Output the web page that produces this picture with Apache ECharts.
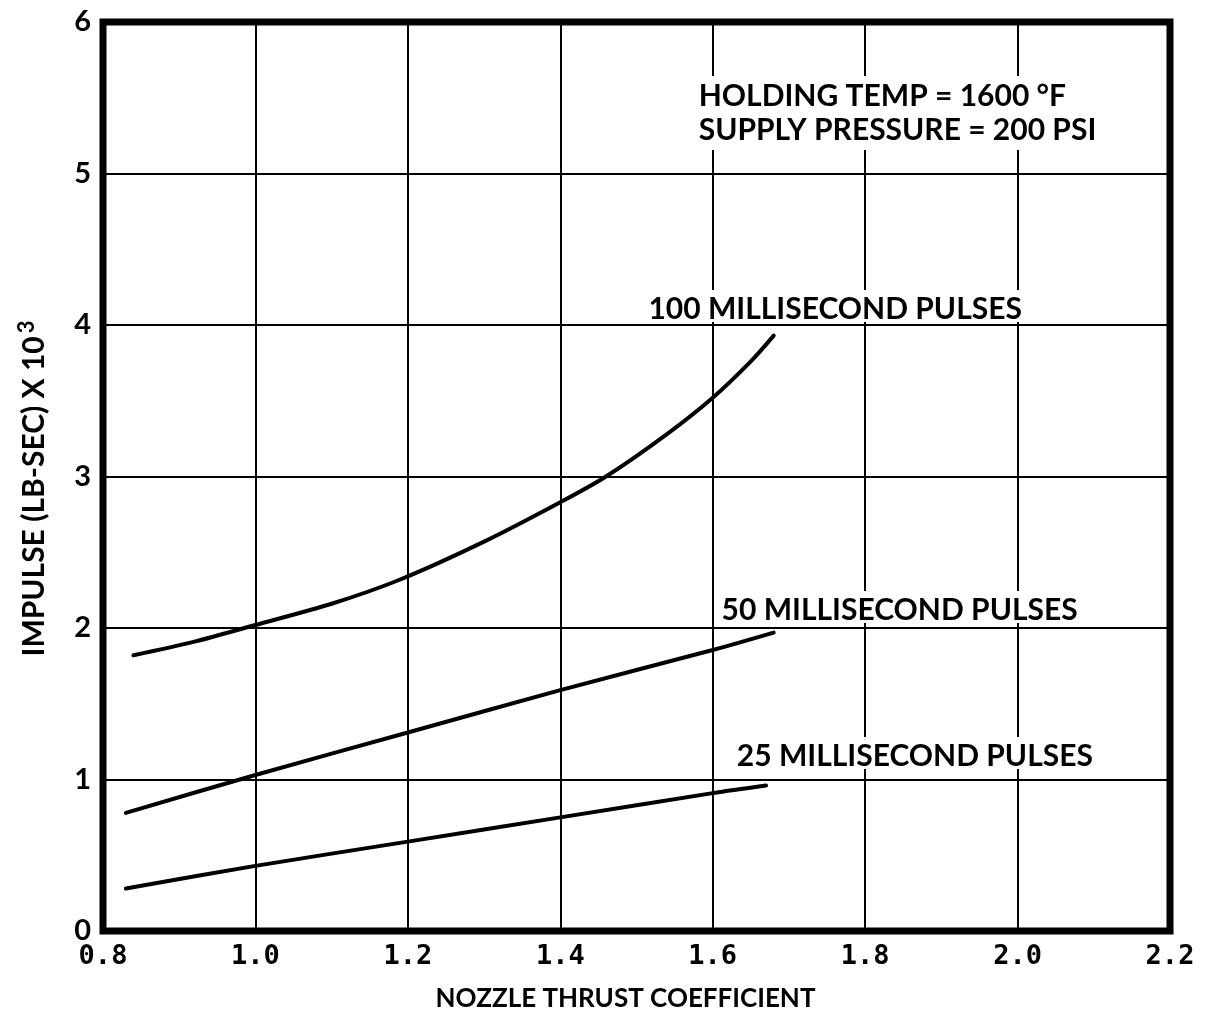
<!DOCTYPE html>
<html>
<head>
<meta charset="utf-8">
<script src="https://cdn.jsdelivr.net/npm/echarts@6/dist/echarts.min.js"></script>
<style>
  html, body { margin: 0; padding: 0; background: #ffffff; }
  #chart { width: 1206px; height: 1017px; }
</style>
</head>
<body>
<div id="chart"></div>
<script>
// Impulse vs nozzle thrust coefficient for three pulse widths
const xTickLabels = ['0.8', '1.0', '1.2', '1.4', '1.6', '1.8', '2.0', '2.2'];
const yTickLabels = ['0', '1', '2', '3', '4', '5', '6'];

// [thrust coefficient, impulse (lb-sec x 10^3)]
const pulses100 = [
  [0.84, 1.82], [0.92, 1.91], [1.00, 2.02], [1.10, 2.16], [1.19, 2.32],
  [1.30, 2.57], [1.40, 2.83], [1.46, 3.00], [1.54, 3.28], [1.60, 3.52],
  [1.65, 3.76], [1.68, 3.93]
];
const pulses50 = [
  [0.83, 0.78], [1.00, 1.03], [1.20, 1.31], [1.40, 1.59], [1.60, 1.855], [1.68, 1.97]
];
const pulses25 = [
  [0.83, 0.28], [1.00, 0.43], [1.20, 0.59], [1.40, 0.75], [1.60, 0.91], [1.67, 0.96]
];

// Annotation anchors: [x, y, text]
// The conditions note is centred on its anchor; curve captions sit on theirs.
const conditionsNote = [1.579, 5.40, 'HOLDING TEMP = 1600 °F\nSUPPLY PRESSURE = 200 PSI'];
const curveCaptions = [
  [1.513, 4.02, '100 MILLISECOND PULSES'],
  [1.609, 2.033, '50 MILLISECOND PULSES'],
  [1.629, 1.069, '25 MILLISECOND PULSES']
];

const FONT = 'Lato';
const chart = echarts.init(document.getElementById('chart'), null, { renderer: 'canvas' });

function curve(name, data) {
  return {
    name: name,
    type: 'line',
    data: data,
    smooth: 0.3,
    showSymbol: false,
    silent: true,
    z: 3,
    lineStyle: { color: '#000', width: 4, cap: 'round' }
  };
}

// Text-only scatter series: white boxes hide the grid lines behind the text
function notesSeries(name, data, labelExtra) {
  return {
    name: name,
    type: 'scatter',
    silent: true,
    symbolSize: 0,
    z: 4,
    itemStyle: { opacity: 1, color: '#000' },
    data: data,
    label: Object.assign({
      show: true,
      position: 'right',
      distance: 0,
      align: 'left',
      fontFamily: FONT,
      fontWeight: 'bold',
      fontSize: 30,
      color: '#000',
      backgroundColor: '#ffffff',
      formatter: p => p.value[2]
    }, labelExtra)
  };
}

chart.setOption({
  animation: false,
  backgroundColor: '#ffffff',
  grid: {
    left: 103, top: 22, right: 36, bottom: 86,
    show: true, borderColor: '#000', borderWidth: 7, backgroundColor: 'transparent'
  },
  xAxis: {
    type: 'value',
    min: 0.8, max: 2.2, interval: 0.2,
    name: 'NOZZLE THRUST COEFFICIENT',
    nameLocation: 'middle',
    nameGap: 55,
    nameTextStyle: { fontFamily: FONT, fontWeight: 'bold', fontSize: 26, color: '#000', padding: [0, 22, 0, 0] },
    axisLine: { show: false },
    axisTick: { show: false },
    axisLabel: {
      margin: 12,
      fontFamily: 'DejaVu Sans Mono', fontWeight: 'bold', fontSize: 27, color: '#000',
      formatter: (v, i) => xTickLabels[i]
    },
    splitLine: { show: true, lineStyle: { color: '#000', width: 2 } }
  },
  yAxis: {
    type: 'value',
    min: 0, max: 6, interval: 1,
    name: 'IMPULSE (LB-SEC) X 10{sup|3}',
    nameLocation: 'middle',
    nameRotate: 90,
    nameGap: 50,
    nameTextStyle: {
      fontFamily: FONT, fontWeight: 'bold', fontSize: 30, color: '#000',
      padding: [0, 24, 0, 0],
      rich: {
        sup: { fontFamily: FONT, fontWeight: 'bold', fontSize: 22, color: '#000', verticalAlign: 'top', padding: [0, 0, 15, 3] }
      }
    },
    axisLine: { show: false },
    axisTick: { show: false },
    axisLabel: {
      margin: 12,
      fontFamily: FONT, fontWeight: 'bold', fontSize: 29, color: '#000',
      formatter: (v, i) => yTickLabels[i]
    },
    splitLine: { show: true, lineStyle: { color: '#000', width: 2 } }
  },
  series: [
    curve('100 ms', pulses100),
    curve('50 ms', pulses50),
    curve('25 ms', pulses25),
    notesSeries('conditions', [conditionsNote], {
      verticalAlign: 'middle', lineHeight: 34, padding: [4, 2, 2, 2]
    }),
    notesSeries('captions', curveCaptions, {
      verticalAlign: 'bottom', lineHeight: 26, padding: [6, 2, 0, 2]
    })
  ]
});
</script>
</body>
</html>
